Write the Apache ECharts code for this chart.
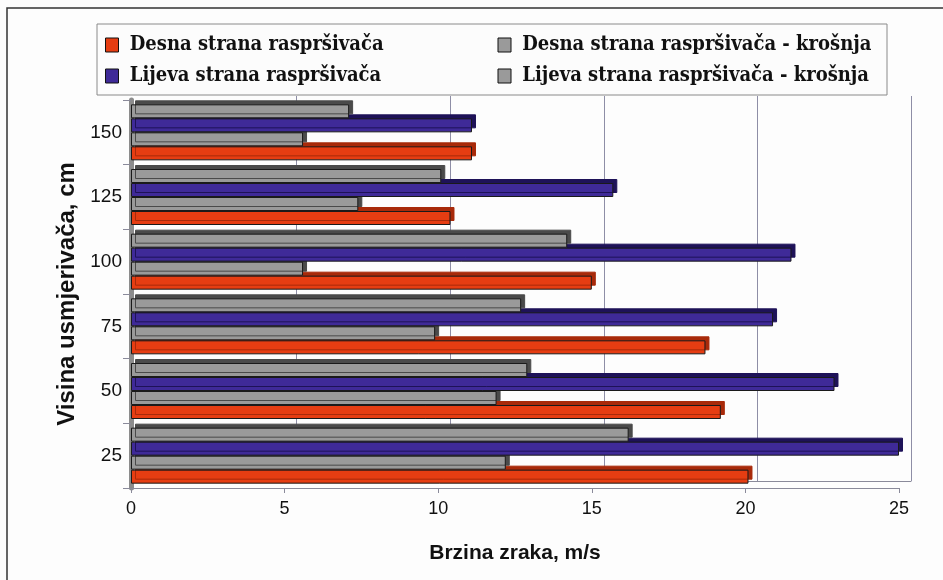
<!DOCTYPE html>
<html>
  <head>
    <meta charset="utf-8">
    <title></title>
    <style>
      html, body { margin: 0; padding: 0; background: #fdfdfd; }
      #wrap { width: 943px; height: 580px; }
    </style>
    <script src="https://cdn.jsdelivr.net/npm/echarts@6/dist/echarts.min.js" charset="utf-8"></script>
  </head>
  <body>
    <div id="wrap"></div>
    <script>
      // visina usmjerivaca (cm), odozdo prema gore
      var visine = ['25', '50', '75', '100', '125', '150'];

      // brzina zraka, m/s (ocitano sa slike)
      var desna = [20.1, 19.2, 18.7, 15.0, 10.4, 11.1];
      var desnaKrosnja = [12.2, 11.9, 9.9, 5.6, 7.4, 5.6];
      var lijeva = [25.0, 22.9, 20.9, 21.5, 15.7, 11.1];
      var lijevaKrosnja = [16.2, 12.9, 12.7, 14.2, 10.1, 7.1];

      var imena = [
        'Desna strana raspršivača',
        'Desna strana raspršivača - krošnja',
        'Lijeva strana raspršivača',
        'Lijeva strana raspršivača - krošnja'
      ];

      var chart = echarts.init(document.getElementById('wrap'));

      // z: gornji stupac u grupi se crta preko donjeg (lazni 3D rub)
      function bar(name, data, color, side, z) {
        return {
          name: name,
          type: 'bar',
          xAxisIndex: 0,
          yAxisIndex: 0,
          data: data,
          barWidth: 14,
          barGap: '0%',
          z: z,
          itemStyle: {
            color: color,
            borderColor: '#1a1a1a',
            borderWidth: 1,
            shadowColor: side,
            shadowBlur: 0,
            shadowOffsetX: 4,
            shadowOffsetY: -4
          }
        };
      }

      var option = {
        backgroundColor: '#fdfdfd',
        animation: false,
        graphic: [{
          type: 'rect',
          shape: { x: 7, y: 8, width: 1000, height: 1000 },
          style: { fill: 'none', stroke: '#333', lineWidth: 1.5 },
          silent: true
        }],
        legend: {
          left: 97,
          top: 24,
          width: 780,
          padding: [11, 8, 9, 8],
          itemGap: 11,
          itemWidth: 13,
          itemHeight: 14,
          icon: 'rect',
          backgroundColor: '#fcfcfc',
          borderColor: '#8a8a8a',
          borderWidth: 1,
          data: imena,
          formatter: function (n) { return ' ' + n; },
          itemStyle: { borderColor: '#111', borderWidth: 1, shadowBlur: 0, shadowOffsetX: 0, shadowOffsetY: 0, shadowColor: 'rgba(0,0,0,0)' },
          textStyle: {
            fontFamily: '"DejaVu Serif Condensed", "DejaVu Serif", serif',
            fontWeight: 'bold',
            fontSize: 20,
            color: '#111',
            width: 363,
            lineHeight: 20
          }
        },
        grid: [
          { left: 131, right: 44, top: 100, bottom: 92 },
          { left: 143, right: 32, top: 96, bottom: 99 }
        ],
        xAxis: [{
          gridIndex: 0,
          type: 'value',
          min: 0,
          max: 25,
          interval: 5,
          name: 'Brzina zraka, m/s',
          nameLocation: 'middle',
          nameGap: 55,
          nameTextStyle: { fontFamily: 'Liberation Sans', fontWeight: 'bold', fontSize: 21, color: '#111' },
          axisLine: { show: true, lineStyle: { color: '#8a8a9a', width: 1 } },
          axisTick: { show: true, length: 5, lineStyle: { color: '#8a8a9a' } },
          axisLabel: { margin: 12, fontFamily: 'Liberation Sans', fontSize: 18, color: '#111' },
          splitLine: { show: false }
        }, {
          gridIndex: 1,
          type: 'value',
          min: 0,
          max: 25,
          interval: 5,
          axisLine: { show: true, lineStyle: { color: '#8a8a9a', width: 1 } },
          axisTick: { show: false },
          axisLabel: { show: false },
          splitLine: { show: true, showMinLine: false, lineStyle: { color: '#8e8ea6', width: 1 } }
        }],
        yAxis: [{
          gridIndex: 0,
          type: 'category',
          data: visine,
          name: 'Visina usmjerivača, cm',
          nameLocation: 'middle',
          nameGap: 49,
          nameRotate: 90,
          nameTextStyle: { fontFamily: 'Liberation Sans', fontWeight: 'bold', fontSize: 24, color: '#111' },
          axisLine: { show: true, lineStyle: { color: '#8c8c8c', width: 5 } },
          axisTick: { show: true, length: 8, lineStyle: { color: '#8a8a9a' } },
          axisLabel: { margin: 9, fontFamily: 'Liberation Sans', fontSize: 19, color: '#111' },
          splitLine: { show: false }
        }, {
          gridIndex: 1,
          type: 'category',
          data: visine,
          show: false
        }],
        series: [
          bar(imena[3], lijevaKrosnja, '#9a9a9a', '#4a4a4a', 5),
          bar(imena[2], lijeva, '#3f2a98', '#1e1258', 4),
          bar(imena[1], desnaKrosnja, '#9a9a9a', '#4a4a4a', 3),
          bar(imena[0], desna, '#e63d12', '#a82a0a', 2)
        ]
      };

      chart.setOption(option);
    </script>
  </body>
</html>
